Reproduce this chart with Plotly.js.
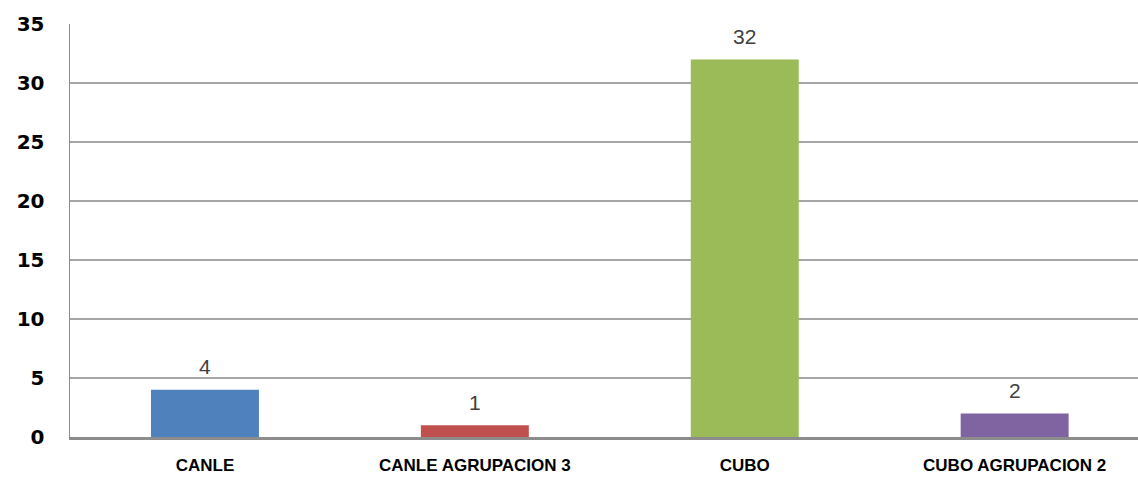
<!DOCTYPE html>
<html><head><meta charset="utf-8">
<script src="https://cdn.plot.ly/plotly-3.0.1.min.js"></script>
<style>html,body{margin:0;padding:0;background:#fff;overflow:hidden}#chart{width:1138px;height:477px}</style>
</head><body><div id="chart"></div>
<script>
const categories = ["CANLE", "CANLE AGRUPACION 3", "CUBO", "CUBO AGRUPACION 2"];
const values = [4, 1, 32, 2];
const colors = ["#4F81BD", "#C0504D", "#9BBB59", "#8064A2"];
const yTicks = [0, 5, 10, 15, 20, 25, 30, 35];

const trace = {
  type: "bar",
  x: categories,
  y: values,
  marker: {color: colors},
  width: 0.40,
  hoverinfo: "none"
};

const annotations = categories.map((c, i) => ({
  x: c, y: values[i], xref: "x", yref: "y",
  text: String(values[i]), showarrow: false,
  yanchor: "middle", yshift: 23,
  font: {family: "Liberation Sans, Arial, sans-serif", size: 21, color: "#404040"}
}));

const layout = {
  width: 1138, height: 477,
  margin: {l: 70, r: 0, t: 24, b: 40},
  paper_bgcolor: "#fff", plot_bgcolor: "#fff",
  showlegend: false,
  annotations: annotations,
  xaxis: {
    type: "category",
    range: [-0.5, 3.457],
    showgrid: false,
    showline: true, linecolor: "#8c8c8c", linewidth: 3,
    ticks: "",
    tickfont: {family: "Liberation Sans, Arial, sans-serif", size: 17, color: "#000"},
    ticklabelstandoff: 11,
    tickprefix: "<b>", ticksuffix: "</b>"
  },
  yaxis: {
    range: [0, 35],
    tickvals: yTicks,
    ticktext: yTicks.map(v => "<b>" + v + "</b>"),
    showgrid: true, gridcolor: "#a6a6a6", gridwidth: 1.5,
    showline: true, linecolor: "#8c8c8c", linewidth: 1.5,
    ticks: "outside", ticklen: 0, tickcolor: "#8c8c8c",
    zeroline: false,
    tickfont: {family: "DejaVu Sans, Liberation Sans, Arial, sans-serif", size: 20, color: "#000"},
    ticklabelstandoff: 20
  }
};

Plotly.newPlot("chart", [trace], layout, {displayModeBar: false, staticPlot: true});
</script>
</body></html>
